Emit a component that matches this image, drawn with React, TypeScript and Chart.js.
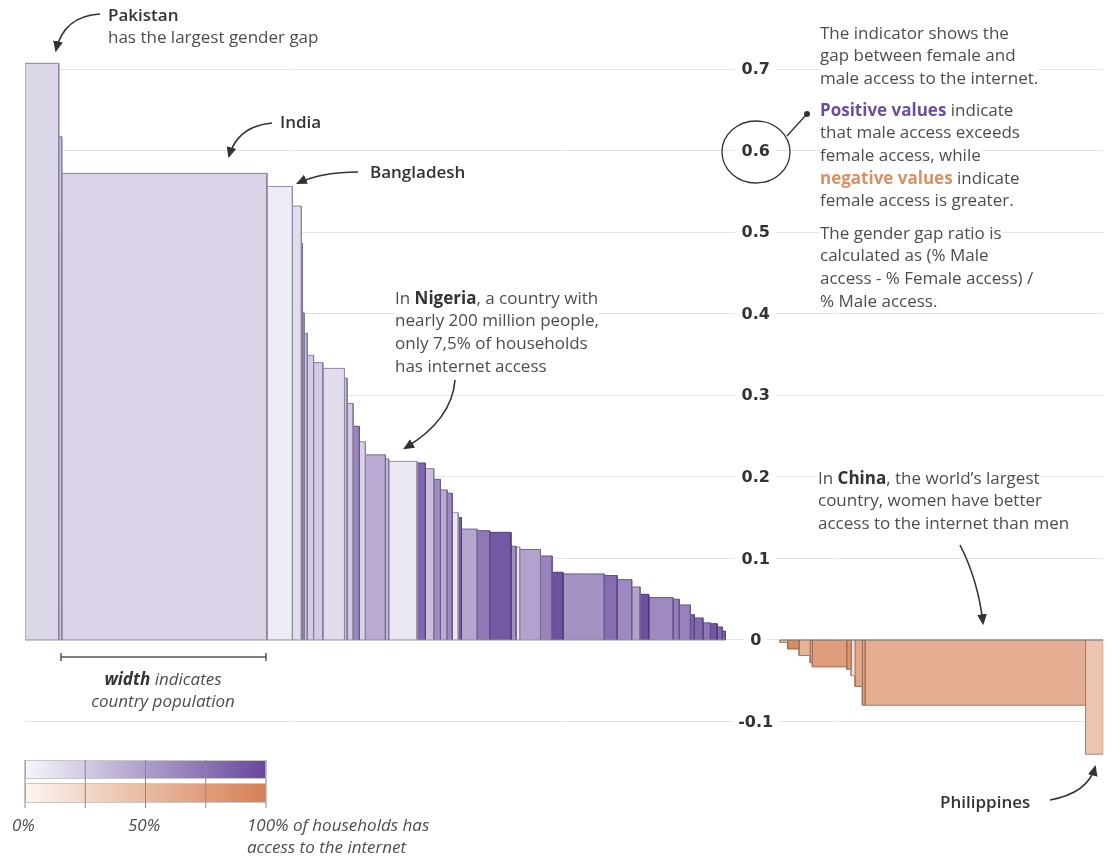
import React, { useEffect, useRef } from 'react';
import { Chart, registerables } from 'chart.js';

Chart.register(...registerables);

// ---------- DATA ----------
// Countries where male access exceeds female access (positive gap), sorted by gap
const POS_COUNTRIES = [
  'Pakistan', 'P02', 'India', 'Bangladesh', 'P05', 'P06', 'P07', 'P08', 'P09', 'P10',
  'P11', 'P12', 'P13', 'P14', 'P15', 'P16', 'P17', 'Nigeria', 'P19', 'P20',
  'P21', 'P22', 'P23', 'P24', 'P25', 'P26', 'P27', 'P28', 'P29', 'P30',
  'P31', 'P32', 'P33', 'P34', 'P35', 'P36', 'P37', 'P38', 'P39', 'P40',
  'P41', 'P42', 'P43', 'P44', 'P45', 'P46', 'P47',
];
// population, millions (bar width)
const POS_POPULATION = [
  226, 20, 1374, 171, 60, 8, 11, 21, 42, 62,
  145, 18, 40, 42, 40, 134, 22, 190, 56, 56,
  45, 45, 34, 40, 22, 105, 84, 142, 34, 25,
  139, 78, 72, 277, 86, 98, 56, 58, 163, 42,
  74, 27, 57, 50, 45, 34, 22,
];
// gender gap ratio (bar height)
const POS_GAP = [
  0.707, 0.617, 0.572, 0.556, 0.532, 0.486, 0.401, 0.376, 0.349, 0.340,
  0.333, 0.321, 0.290, 0.262, 0.243, 0.227, 0.222, 0.219, 0.217, 0.210,
  0.197, 0.184, 0.180, 0.156, 0.150, 0.136, 0.134, 0.132, 0.115, 0.114,
  0.111, 0.103, 0.083, 0.081, 0.079, 0.074, 0.065, 0.056, 0.052, 0.050,
  0.043, 0.031, 0.027, 0.021, 0.020, 0.016, 0.011,
];
// % of households with internet access (bar colour)
const POS_ACCESS = [
  18, 25, 20, 5, 14, 40, 30, 30, 25, 25,
  15, 30, 25, 65, 20, 43, 35, 7.5, 82, 31,
  61, 44, 62, 8, 90, 46, 72, 91, 58, 8,
  48, 66, 95, 57, 78, 62, 48, 96, 62, 70,
  66, 85, 80, 72, 92, 80, 85,
];

// Countries where female access exceeds male access (negative gap)
const NEG_COUNTRIES = ['N01', 'N02', 'N03', 'N04', 'N05', 'N06', 'N07', 'N08', 'N09', 'China', 'Philippines'];
const NEG_POPULATION = [52, 76, 74, 15, 230, 29, 27, 49, 18, 1477, 119];
const NEG_GAP = [-0.003, -0.011, -0.019, -0.028, -0.033, -0.036, -0.044, -0.057, -0.080, -0.080, -0.140];
const NEG_ACCESS = [50, 90, 55, 70, 75, 80, 20, 68, 75, 60, 40];

const TICK_VALUES = [-0.1, 0, 0.1, 0.2, 0.3, 0.4, 0.5, 0.6, 0.7];
const TICK_LABELS = ['-0.1', '0', '0.1', '0.2', '0.3', '0.4', '0.5', '0.6', '0.7'];

// spacing (in population units) between the positive and negative groups
const GROUP_GAP = 365;

// ---------- STYLE ----------
const W = 1112;
const H = 856;
const PURPLE_LO = [246, 245, 250];
const PURPLE_HI = [104, 72, 156];
const ORANGE_LO = [252, 244, 239];
const ORANGE_HI = [214, 128, 84];
const TEXT = '#4d4d4d';
const DARK = '#333333';
const FONT = '"Open Sans", "Noto Sans", sans-serif';

function mix(a: number[], b: number[], t: number) {
  return a.map((v, i) => Math.round(v + (b[i] - v) * t));
}
function rgb(c: number[]) {
  return `rgb(${c.join(',')})`;
}

function rectDataset(x0: number, x1: number, v: number, fill: number[], edge: number[], label: string) {
  return {
    label,
    data: [
      { x: x0, y: 0 },
      { x: x0, y: v },
      { x: x1, y: v },
      { x: x1, y: 0 },
    ],
    fill: 'origin',
    backgroundColor: rgb(fill),
    borderColor: rgb(mix(fill, edge, 0.45)),
    borderWidth: 1,
    pointRadius: 0,
    pointHoverRadius: 0,
    tension: 0,
  };
}

function baseline(x0: number, x1: number, color: string) {
  return {
    label: 'baseline',
    data: [
      { x: x0, y: 0 },
      { x: x1, y: 0 },
    ],
    fill: false,
    borderColor: color,
    borderWidth: 1.2,
    pointRadius: 0,
    pointHoverRadius: 0,
  };
}

function buildData() {
  const datasets: any[] = [];
  let x = 0;
  POS_POPULATION.forEach((p, i) => {
    const fill = mix(PURPLE_LO, PURPLE_HI, POS_ACCESS[i] / 100);
    datasets.push(rectDataset(x, x + p, POS_GAP[i], fill, [40, 30, 70], POS_COUNTRIES[i]));
    x += p;
  });
  const posEnd = x;
  x += GROUP_GAP;
  const negStart = x;
  NEG_POPULATION.forEach((p, i) => {
    const fill = mix(ORANGE_LO, ORANGE_HI, NEG_ACCESS[i] / 100);
    datasets.push(rectDataset(x, x + p, NEG_GAP[i], fill, [80, 55, 45], NEG_COUNTRIES[i]));
    x += p;
  });
  datasets.unshift(baseline(0, posEnd, '#8f8aa6'));
  datasets.unshift(baseline(negStart, x, '#6e6e6e'));
  return { datasets, posEnd, negStart, total: x };
}

export default function App() {
  const ref = useRef<HTMLCanvasElement | null>(null);

  useEffect(() => {
    if (!ref.current) return;
    const { datasets, posEnd, negStart, total } = buildData();

    const midAxisLabels = {
      id: 'midAxisLabels',
      afterDatasetsDraw(chart: any) {
        const { ctx, scales } = chart;
        const xs = scales.x;
        const ys = scales.y;
        const cx = (xs.getPixelForValue(posEnd) + xs.getPixelForValue(negStart)) / 2 + 3;
        ctx.save();
        ctx.font = 'bold 16px "DejaVu Sans", sans-serif';
        ctx.textAlign = 'center';
        ctx.textBaseline = 'middle';
        ys.ticks.forEach((t: any) => {
          const idx = TICK_VALUES.findIndex((v) => Math.abs(v - t.value) < 1e-9);
          const label = idx >= 0 ? TICK_LABELS[idx] : String(t.value);
          const py = ys.getPixelForValue(t.value);
          const w = ctx.measureText(label).width;
          ctx.fillStyle = '#ffffff';
          ctx.fillRect(cx - w / 2 - 6, py - 2, w + 12, 4);
          ctx.fillStyle = DARK;
          ctx.fillText(label, cx, py + 1);
        });
        ctx.restore();
      },
    };

    const chart = new Chart(ref.current, {
      type: 'line',
      data: { datasets },
      options: {
        animation: false,
        responsive: false,
        events: [],
        parsing: true,
        layout: { padding: { left: 25, right: 8.7, top: 52.7, bottom: 85.5 } },
        plugins: { legend: { display: false }, tooltip: { enabled: false } },
        scales: {
          x: { type: 'linear', min: 0, max: total, display: false },
          y: {
            type: 'linear',
            min: -0.16,
            max: 0.72,
            position: 'left',
            afterBuildTicks: (scale: any) => {
              scale.ticks = TICK_VALUES.map((v) => ({ value: v }));
            },
            ticks: { display: false },
            grid: { color: '#e4e4e4', lineWidth: 1, drawTicks: false },
            border: { display: false },
          },
        },
      },
      plugins: [midAxisLabels],
    } as any);
    return () => chart.destroy();
  }, []);

  const lh = 22.7;
  const abs = (left: number, top: number, extra: any = {}) => ({
    position: 'absolute' as const,
    left,
    top,
    fontFamily: FONT,
    fontSize: 17,
    lineHeight: `${lh}px`,
    color: TEXT,
    whiteSpace: 'nowrap' as const,
    ...extra,
  });
  const bg = { background: '#fff' };
  const b = (t: string, color = DARK) => <span style={{ fontWeight: 700, color }}>{t}</span>;

  return (
    <div style={{ position: 'absolute', left: 0, top: 0, width: W, height: H, background: '#fff', overflow: 'hidden' }}>
      <canvas ref={ref} width={W} height={H} style={{ position: 'absolute', left: 0, top: 0, width: W, height: H }} />

      {/* annotations */}
      <div style={abs(108, 15 - lh / 2)}>
        <span style={{ fontWeight: 600, color: DARK }}>Pakistan</span>
        <br />
        has the largest gender gap
      </div>
      <div style={abs(280, 122 - lh / 2, { fontWeight: 600, color: DARK })}>India</div>
      <div style={abs(370, 172 - lh / 2, { fontWeight: 600, color: DARK })}>Bangladesh</div>

      <div style={abs(395, 298 - lh / 2)}>
        <span style={bg}>In {b('Nigeria')}, a country with</span>
        <br />
        <span style={bg}>nearly 200 million people,</span>
        <br />
        <span style={bg}>only 7,5% of households</span>
        <br />
        <span style={bg}>has internet access</span>
      </div>

      <div style={abs(820, 33 - lh / 2)}>
        <span style={bg}>The indicator shows the</span>
        <br />
        <span style={bg}>gap between female and</span>
        <br />
        <span style={bg}>male access to the internet.</span>
      </div>
      <div style={abs(820, 110 - lh / 2)}>
        <span style={bg}>{b('Positive values', '#6b4ea0')} indicate</span>
        <br />
        <span style={bg}>that male access exceeds</span>
        <br />
        <span style={bg}>female access, while</span>
        <br />
        <span style={bg}>{b('negative values', '#dc8f63')} indicate</span>
        <br />
        <span style={bg}>female access is greater.</span>
      </div>
      <div style={abs(820, 233 - lh / 2)}>
        <span style={bg}>The gender gap ratio is</span>
        <br />
        <span style={bg}>calculated as (% Male</span>
        <br />
        <span style={bg}>access - % Female access) /</span>
        <br />
        <span style={bg}>% Male access.</span>
      </div>

      <div style={abs(818, 478 - lh / 2)}>
        <span style={bg}>In {b('China')}, the world’s largest</span>
        <br />
        <span style={bg}>country, women have better</span>
        <br />
        <span style={bg}>access to the internet than men</span>
      </div>

      <div style={abs(940, 802 - lh / 2, { fontWeight: 600, color: DARK })}>Philippines</div>

      <div style={abs(60, 679 - lh / 2, { width: 206, textAlign: 'center', fontStyle: 'italic' })}>
        <span style={{ fontWeight: 700, color: DARK }}>width</span> indicates
        <br />
        country population
      </div>

      {/* colour legend */}
      <div
        style={{
          position: 'absolute', left: 25, top: 760, width: 241, height: 19, boxSizing: 'border-box',
          border: '1px solid #c8c8c8',
          background: `linear-gradient(to right, ${rgb(PURPLE_LO)}, ${rgb(PURPLE_HI)})`,
        }}
      />
      <div
        style={{
          position: 'absolute', left: 25, top: 783, width: 241, height: 20, boxSizing: 'border-box',
          border: '1px solid #c8c8c8',
          background: `linear-gradient(to right, ${rgb(ORANGE_LO)}, ${rgb(ORANGE_HI)})`,
        }}
      />
      <div style={abs(12, 825 - lh / 2, { fontStyle: 'italic' })}>0%</div>
      <div style={abs(128, 825 - lh / 2, { fontStyle: 'italic' })}>50%</div>
      <div style={abs(247, 825 - lh / 2, { fontStyle: 'italic' })}>
        100% of households has
        <br />
        access to the internet
      </div>

      <svg width={W} height={H} style={{ position: 'absolute', left: 0, top: 0, pointerEvents: 'none' }}>
        <defs>
          <marker id="ah" viewBox="0 0 10 10" refX="8" refY="5" markerUnits="userSpaceOnUse" markerWidth="11" markerHeight="11" orient="auto">
            <path d="M0,0.5 L10,5 L0,9.5 z" fill="#333" />
          </marker>
        </defs>
        <g fill="none" stroke="#333" strokeWidth={1.6}>
          <path d="M100,14 Q64,16 56,50" markerEnd="url(#ah)" />
          <path d="M272,123 Q238,126 229,156" markerEnd="url(#ah)" />
          <path d="M358,172 Q322,172 298,183" markerEnd="url(#ah)" />
          <path d="M455,380 Q452,420 405,448" markerEnd="url(#ah)" />
          <path d="M960,545 Q978,580 983,623" markerEnd="url(#ah)" />
          <path d="M1050,800 Q1088,793 1095,767" markerEnd="url(#ah)" />
        </g>
        {/* circle around 0.6 */}
        <ellipse cx={756} cy={152} rx={34} ry={31} fill="none" stroke="#333" strokeWidth={1.3} />
        <line x1={787} y1={136} x2={806} y2={115} stroke="#333" strokeWidth={1.3} />
        <circle cx={807} cy={114} r={3} fill="#333" />
        {/* width bracket */}
        <g stroke="#555" strokeWidth={1.5}>
          <line x1={61} y1={657} x2={266} y2={657} />
          <line x1={61} y1={653} x2={61} y2={661} />
          <line x1={266} y1={653} x2={266} y2={661} />
        </g>
        {/* legend dividers */}
        <g stroke="#888" strokeWidth={1}>
          {[25, 85.25, 145.5, 205.75, 266].map((x) => (
            <line key={x} x1={x} y1={760} x2={x} y2={808} />
          ))}
        </g>
      </svg>
    </div>
  );
}
